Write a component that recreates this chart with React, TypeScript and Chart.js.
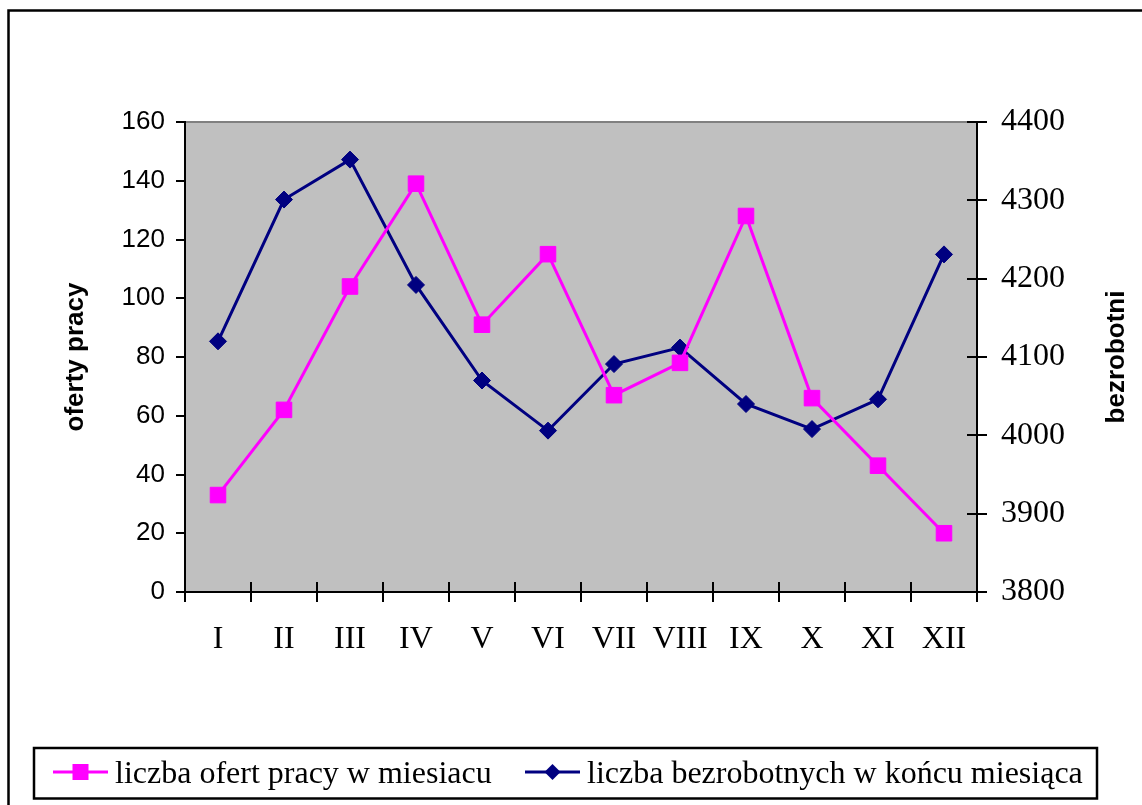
import React, { useEffect, useRef } from "react";
import { Chart, registerables } from "chart.js";

Chart.register(...registerables);

const months = ["I", "II", "III", "IV", "V", "VI", "VII", "VIII", "IX", "X", "XI", "XII"];
const offers = [33, 62, 104, 139, 91, 115, 67, 78, 128, 66, 43, 20];
const unemployed = [4120, 4301, 4352, 4192, 4070, 4006, 4091, 4112, 4040, 4008, 4046, 4231];
const offersLabel = "liczba ofert pracy w miesiacu";
const unemployedLabel = "liczba bezrobotnych w końcu miesiąca";
const leftTitle = "oferty pracy";
const rightTitle = "bezrobotni";

const SERIF = "'Liberation Serif', 'Times New Roman', serif";
const SANS = "'Liberation Sans', Arial, sans-serif";
const PINK = "#FF00FF";
const NAVY = "#000080";

const decorPlugin = {
  id: "decor",
  beforeDraw(chart: any) {
    const { ctx, chartArea: a } = chart;
    ctx.save();
    ctx.fillStyle = "#FFFFFF";
    ctx.fillRect(0, 0, chart.width, chart.height);
    // outer frame
    ctx.strokeStyle = "#000";
    ctx.lineWidth = 2.5;
    ctx.beginPath();
    ctx.moveTo(8.5, chart.height + 5);
    ctx.lineTo(8.5, 10.5);
    ctx.lineTo(chart.width + 5, 10.5);
    ctx.stroke();
    // plot area
    ctx.fillStyle = "#C0C0C0";
    ctx.fillRect(a.left, a.top, a.right - a.left, a.bottom - a.top);
    ctx.strokeStyle = "#808080";
    ctx.lineWidth = 2;
    ctx.beginPath();
    ctx.moveTo(a.left, a.top);
    ctx.lineTo(a.right, a.top);
    ctx.stroke();
    ctx.restore();
  },
  afterDraw(chart: any) {
    const { ctx, chartArea: a, scales } = chart;
    ctx.save();
    // inner halves of crossing ticks
    ctx.strokeStyle = "#000";
    ctx.lineWidth = 2;
    const xs = scales.x;
    ctx.beginPath();
    for (let i = 0; i <= months.length; i++) {
      const px = Math.round(xs.getPixelForValue(i - 0.5));
      ctx.moveTo(px, a.bottom);
      ctx.lineTo(px, a.bottom - 10);
    }
    const y1 = scales.y1;
    y1.ticks.forEach((t: any) => {
      const py = Math.round(y1.getPixelForValue(t.value));
      ctx.moveTo(a.right, py);
      ctx.lineTo(a.right - 10, py);
    });
    ctx.stroke();

    // axis titles
    ctx.fillStyle = "#000";
    ctx.font = `bold 26px ${SANS}`;
    ctx.textAlign = "center";
    ctx.textBaseline = "middle";
    const cy = (a.top + a.bottom) / 2;
    [[76, leftTitle], [1117, rightTitle]].forEach(([x, txt]: any) => {
      ctx.save();
      ctx.translate(x, cy);
      ctx.rotate(-Math.PI / 2);
      ctx.fillText(txt, 0, 0);
      ctx.restore();
    });

    // legend
    ctx.strokeStyle = "#000";
    ctx.lineWidth = 2.5;
    ctx.strokeRect(34, 748, 1097 - 34, 798.5 - 748);
    const ly = 772;
    const ds = chart.data.datasets;
    const items = [
      { x0: 53, x1: 108, tx: 115, d: ds[0] },
      { x0: 525, x1: 580, tx: 587, d: ds[1] },
    ];
    ctx.font = `32px ${SERIF}`;
    ctx.textAlign = "left";
    ctx.textBaseline = "alphabetic";
    items.forEach((it) => {
      ctx.strokeStyle = it.d.borderColor;
      ctx.lineWidth = 3;
      ctx.beginPath();
      ctx.moveTo(it.x0, ly);
      ctx.lineTo(it.x1, ly);
      ctx.stroke();
      const cx = (it.x0 + it.x1) / 2;
      ctx.fillStyle = it.d.pointBackgroundColor;
      ctx.beginPath();
      if (it.d.pointStyle === "rect") {
        ctx.rect(cx - 8, ly - 8, 16, 16);
      } else {
        ctx.moveTo(cx - 8, ly);
        ctx.lineTo(cx, ly - 8);
        ctx.lineTo(cx + 8, ly);
        ctx.lineTo(cx, ly + 8);
        ctx.closePath();
      }
      ctx.fill();
      ctx.fillStyle = "#000";
      ctx.fillText(it.d.label, it.tx, 783);
    });
    ctx.restore();
  },
};

export default function App() {
  const ref = useRef<HTMLCanvasElement | null>(null);
  useEffect(() => {
    if (!ref.current) return;
    const chart = new Chart(ref.current, {
      type: "line",
      data: {
        labels: months,
        datasets: [
          {
            label: offersLabel,
            data: offers,
            yAxisID: "y",
            borderColor: PINK,
            backgroundColor: PINK,
            pointBackgroundColor: PINK,
            pointBorderColor: PINK,
            borderWidth: 3,
            pointStyle: "rect",
            pointRadius: 11,
            pointBorderWidth: 1,
            tension: 0,
          },
          {
            label: unemployedLabel,
            data: unemployed,
            yAxisID: "y1",
            borderColor: NAVY,
            backgroundColor: NAVY,
            pointBackgroundColor: NAVY,
            pointBorderColor: NAVY,
            borderWidth: 3,
            pointStyle: "rectRot",
            pointRadius: 8.5,
            pointBorderWidth: 1,
            tension: 0,
          },
        ],
      },
      options: {
        animation: false,
        responsive: false,
        devicePixelRatio: 1,
        layout: { padding: { top: 122, left: 0, right: 0, bottom: 0 } },
        plugins: {
          legend: { display: false },
          tooltip: { enabled: false },
          title: { display: false },
        },
        scales: {
          x: {
            type: "category",
            offset: true,
            grid: {
              offset: true,
              drawOnChartArea: false,
              drawTicks: true,
              tickLength: 10,
              color: "#000",
              lineWidth: 2,
            },
            border: { color: "#000", width: 2 },
            ticks: {
              color: "#000",
              font: { family: SERIF, size: 32 },
              padding: 18,
              maxRotation: 0,
              autoSkip: false,
            },
            afterFit: (s: any) => {
              s.height = 213;
            },
          },
          y: {
            position: "left",
            min: 0,
            max: 160,
            grid: {
              drawOnChartArea: false,
              drawTicks: true,
              tickLength: 9,
              color: "#000",
              lineWidth: 2,
            },
            border: { color: "#000", width: 2 },
            ticks: {
              stepSize: 20,
              color: "#000",
              font: { family: SANS, size: 26 },
              padding: 11,
              callback: (v: any) => String(v),
            },
            afterFit: (s: any) => {
              s.width = 185;
            },
          },
          y1: {
            position: "right",
            min: 3800,
            max: 4400,
            grid: {
              drawOnChartArea: false,
              drawTicks: true,
              tickLength: 10,
              color: "#000",
              lineWidth: 2,
            },
            border: { color: "#000", width: 2 },
            ticks: {
              stepSize: 100,
              color: "#000",
              font: { family: SERIF, size: 32 },
              padding: 14,
              callback: (v: any) => String(v),
            },
            afterFit: (s: any) => {
              s.width = 165;
            },
          },
        },
      },
      plugins: [decorPlugin],
    } as any);
    return () => chart.destroy();
  }, []);
  return (
    <div style={{ position: "fixed", left: 0, top: 0, width: 1142, height: 805 }}>
      <canvas ref={ref} width={1142} height={805} style={{ display: "block", width: 1142, height: 805 }} />
    </div>
  );
}
